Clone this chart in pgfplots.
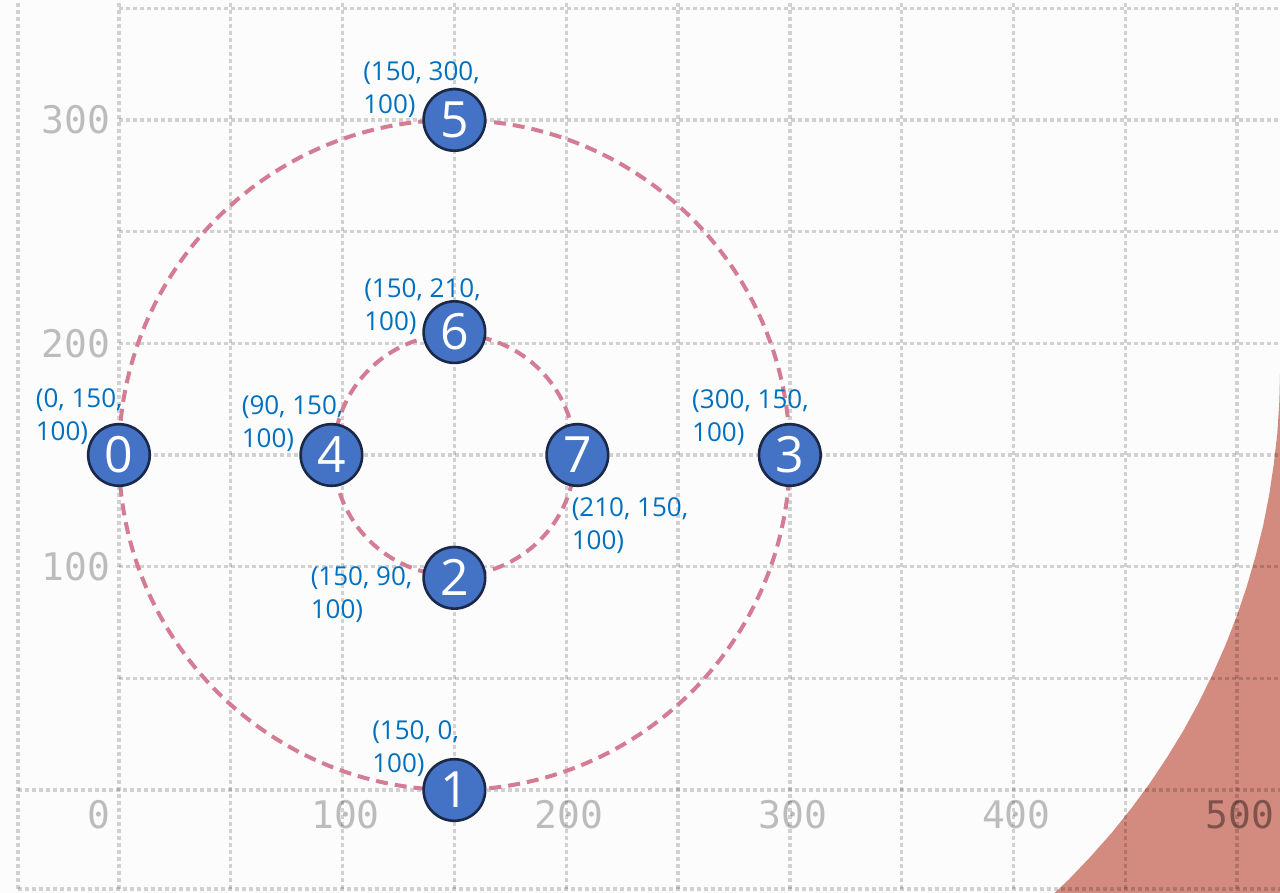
\documentclass[border=0pt]{standalone}
\usepackage{pgfplots}
\pgfplotsset{compat=1.18}
\usepackage{pgfplotstable}
\usepackage{fontspec}
\setmainfont{Open Sans}
\newfontfamily\monofont{DejaVu Sans Mono}
\definecolor{bgc}{HTML}{FCFCFC}
\definecolor{redfill}{HTML}{D38B80}
\definecolor{nodeblue}{HTML}{4472C4}
\definecolor{nodeedge}{HTML}{1B2847}
\definecolor{labblue}{HTML}{0070C0}
\definecolor{dashpink}{HTML}{D47C93}

% x y : drawn position; n : node id; lx ly : label text; dx dy : label offset (pt)
\pgfplotstableread{
x y n lx ly dx dy
0 150 0 0 150 -41.75 33.5
150 0 1 150 0 -41.25 35
150 95 2 150 90 -72 6
300 150 3 300 150 -49 33
95 150 4 90 150 -45 30
150 300 5 150 300 -45.75 29.5
150 205 6 150 210 -45.25 27
205 150 7 210 150 -3 -21
}\nodestable

\begin{document}
\begin{tikzpicture}[
  gridline/.style={draw=black, draw opacity=0.17, line width=1.7pt, dash pattern=on 2pt off 1.5pt},
  ticklab/.style={font=\monofont\fontsize{19pt}{19pt}\selectfont, text=black, text opacity=0.25, inner sep=0pt}
]
\begin{axis}[
  width=640pt, height=446.5pt, scale only axis,
  xmin=-53.2, xmax=519.2, ymin=-46.1, ymax=353.7,
  xtick=\empty, ytick=\empty,
  axis line style={draw=none},
  axis background/.style={fill=bgc},
]
% red region
\addplot[fill=redfill, draw=none] coordinates {
 (530,186.5) (519.2,186.5) (518.9,173.8) (518.0,159.7) (516.4,145.8) (514.3,131.9)
 (511.6,118.1) (508.2,104.5) (504.3,91.0) (499.8,77.7) (494.7,64.6) (489.0,51.7)
 (482.8,39.1) (476.1,26.8) (468.8,14.8) (461.0,3.1) (452.7,-8.2) (443.9,-19.2)
 (434.6,-29.7) (424.9,-39.9) (414.7,-49.6) (530,-52)
} -- cycle;

% grid
\pgfplotsinvokeforeach{0,50,...,500}{
  \draw[gridline] (axis cs:#1,-44.3) -- (axis cs:#1,353.7);
}
\draw[gridline] (axis cs:-45.2,-44.3) -- (axis cs:-45.2,353.7);
\pgfplotsinvokeforeach{50,100,...,350}{
  \draw[gridline] (axis cs:0,#1) -- (axis cs:519.2,#1);
}
\draw[gridline] (axis cs:-45.2,0) -- (axis cs:519.2,0);
\draw[gridline] (axis cs:-45.2,-44.3) -- (axis cs:519.2,-44.3);

% tick labels
\node[ticklab, anchor=east] at (axis cs:-3.6,100) {100};
\node[ticklab, anchor=east] at (axis cs:-3.6,200) {200};
\node[ticklab, anchor=east] at (axis cs:-3.6,300) {300};
\node[ticklab, anchor=east] at (axis cs:-3.6,-11.2) {0};
\node[ticklab] at (axis cs:101.3,-11.2) {100};
\node[ticklab] at (axis cs:201.3,-11.2) {200};
\node[ticklab] at (axis cs:301.3,-11.2) {300};
\node[ticklab] at (axis cs:401.3,-11.2) {400};
\node[ticklab, text opacity=0.4] at (axis cs:501.3,-11.2) {500};

% nodes
\addplot[only marks, mark=*, mark size=15.4pt,
  mark options={fill=nodeblue, draw=nodeedge, line width=1.3pt},
  point meta=explicit symbolic,
  nodes near coords,
  nodes near coords style={anchor=center, text=white, inner sep=0pt,
    font=\fontsize{25pt}{25pt}\selectfont}]
  table[x=x, y=y, meta=n] {\nodestable};

% dashed circles
\draw[dashpink, line width=2pt, dash pattern=on 6pt off 3.5pt]
  (axis cs:150,150) circle[radius=150];
\draw[dashpink, line width=2pt, dash pattern=on 6pt off 3.5pt]
  (axis cs:150,150) circle[radius=54];

% coordinate labels
\addplot[only marks, mark=none,
  /pgf/number format/assume math mode=true,
  visualization depends on={\thisrow{lx}\as\labx},
  visualization depends on={\thisrow{ly}\as\laby},
  visualization depends on={\thisrow{dx}\as\ddx},
  visualization depends on={\thisrow{dy}\as\ddy},
  nodes near coords={(\pgfmathprintnumber{\labx}, \pgfmathprintnumber{\laby},\\100)},
  nodes near coords style={anchor=north west, xshift=\ddx pt, yshift=\ddy pt,
    align=left, inner sep=0pt, text=labblue,
    /pgf/number format/assume math mode=true,
    font=\fontsize{13pt}{16.5pt}\selectfont}]
  table[x=x, y=y] {\nodestable};
\end{axis}
\end{tikzpicture}
\end{document}
